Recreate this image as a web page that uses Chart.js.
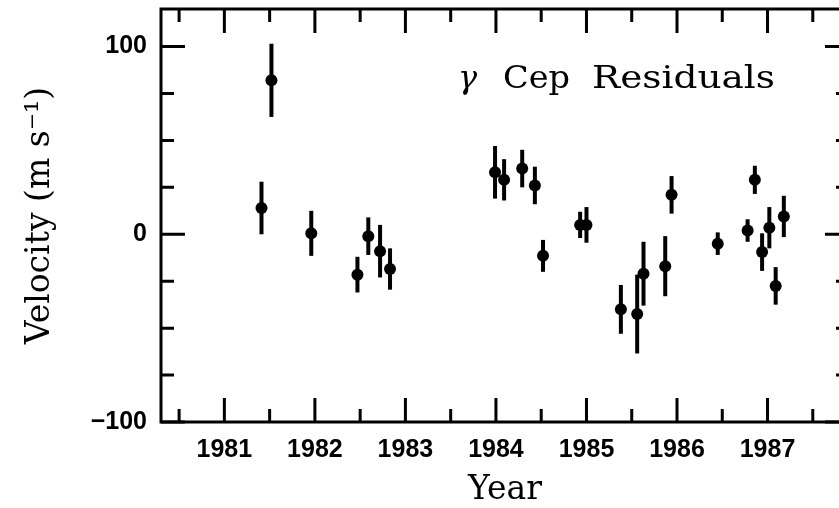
<!DOCTYPE html>
<html>
<head>
<meta charset="utf-8">
<script src="https://cdn.jsdelivr.net/npm/chart.js@4/dist/chart.umd.min.js"></script>
<style>
  html, body { margin: 0; padding: 0; background: #fff; overflow: hidden; }
  canvas { display: block; }
</style>
</head>
<body>
<canvas id="chart" width="870" height="508"></canvas>
<script>
// gamma Cep residuals
const years = [
  1981.41, 1981.52, 1981.96, 1982.47, 1982.59, 1982.72, 1982.83,
  1983.99, 1984.09, 1984.29, 1984.43, 1984.52, 1984.93, 1985.0,
  1985.38, 1985.56, 1985.63, 1985.87, 1985.94,
  1986.45, 1986.78, 1986.86, 1986.94, 1987.02, 1987.09, 1987.18,
];
const velocity = [
  14, 82, 0.5, -21.5, -1, -9, -18.5,
  33, 29, 35, 26, -11.5, 5, 5,
  -40, -42.5, -21, -17, 21,
  -5, 2, 29, -9.5, 3.5, -27.5, 9.5,
];
const errors = [
  14, 19.5, 12, 9.5, 10, 14, 11,
  14, 11, 10, 10, 8.5, 7, 9.5,
  13, 21, 17, 16, 10,
  6, 6, 7.5, 10, 11, 10, 11,
];
const xTicks = [1981, 1982, 1983, 1984, 1985, 1986, 1987];
const xMinor = [1980.5, 1981.5, 1982.5, 1983.5, 1984.5, 1985.5, 1986.5, 1987.5];
const yTicks = [-100, 0, 100];
const yMinor = [-75, -50, -25, 25, 50, 75];

const labelFont = { family: 'Liberation Sans', size: 25, weight: 'bold' };
const serif = 'DejaVu Serif';

// draw a word stretched to a given width
const stretchText = (ctx, text, x, y, w) => {
  const m = ctx.measureText(text).width;
  ctx.save();
  ctx.translate(x, y);
  ctx.scale(w / m, 1);
  ctx.fillText(text, 0, 0);
  ctx.restore();
};

// frame, inward ticks and error bars
const framePlugin = {
  id: 'frame',
  beforeDatasetsDraw(chart) {
    const { ctx, scales: { x, y } } = chart;
    ctx.save();
    ctx.strokeStyle = '#000';
    ctx.lineWidth = 4;
    years.forEach((yr, i) => {
      const px = x.getPixelForValue(yr);
      ctx.beginPath();
      ctx.moveTo(px, y.getPixelForValue(velocity[i] + errors[i]));
      ctx.lineTo(px, y.getPixelForValue(velocity[i] - errors[i]));
      ctx.stroke();
    });
    ctx.restore();
  },
  afterDraw(chart) {
    const { ctx, chartArea: a, scales: { x, y } } = chart;
    ctx.save();
    ctx.strokeStyle = '#000';
    ctx.lineWidth = 3;
    ctx.strokeRect(a.left, a.top, a.right - a.left, a.bottom - a.top);
    const major = 24, minor = 13;
    const xTick = (v, len) => {
      const px = x.getPixelForValue(v);
      ctx.beginPath();
      ctx.moveTo(px, a.bottom); ctx.lineTo(px, a.bottom - len);
      ctx.moveTo(px, a.top); ctx.lineTo(px, a.top + len);
      ctx.stroke();
    };
    const yTick = (v, len) => {
      const py = y.getPixelForValue(v);
      ctx.beginPath();
      ctx.moveTo(a.left, py); ctx.lineTo(a.left + len, py);
      ctx.moveTo(a.right, py); ctx.lineTo(a.right - len, py);
      ctx.stroke();
    };
    xTicks.forEach(v => xTick(v, major));
    xMinor.forEach(v => xTick(v, minor));
    yTicks.forEach(v => yTick(v, major));
    yMinor.forEach(v => yTick(v, minor));

    // label inside the plot
    ctx.fillStyle = '#000';
    ctx.textBaseline = 'alphabetic';
    ctx.textAlign = 'left';
    const ty = 88;
    ctx.font = 'italic 32px "' + serif + '"';
    ctx.fillText('γ', 458, ty);
    ctx.font = '32px "' + serif + '"';
    stretchText(ctx, 'Cep', 503, ty, 67);
    stretchText(ctx, 'Residuals', 592, ty, 183);
    ctx.restore();
  },
};

new Chart(document.getElementById('chart'), {
  type: 'scatter',
  data: {
    datasets: [{
      data: years.map((yr, i) => ({ x: yr, y: velocity[i] })),
      pointRadius: 6,
      pointBackgroundColor: '#000',
      pointBorderWidth: 0,
    }],
  },
  options: {
    responsive: false,
    animation: false,
    layout: { autoPadding: false, padding: { left: 0, top: 9, right: 21, bottom: 0 } },
    plugins: { legend: { display: false }, tooltip: { enabled: false } },
    scales: {
      x: {
        type: 'linear',
        min: 1980.3,
        max: 1987.9,
        afterBuildTicks: s => { s.ticks = xTicks.map(v => ({ value: v })); },
        afterFit: s => { s.height = 86; s.paddingLeft = 0; s.paddingRight = 0; },
        grid: { display: false, drawTicks: false },
        border: { display: false },
        ticks: {
          callback: v => String(v),
          font: labelFont,
          color: '#000',
          padding: 13,
          maxRotation: 0,
          autoSkip: false,
        },
        title: {
          display: true,
          text: 'Year',
          color: '#000',
          font: { family: serif, size: 33, lineHeight: 1 },
          padding: { top: 0, bottom: 1 },
        },
      },
      y: {
        min: -100,
        max: 120,
        afterBuildTicks: s => { s.ticks = yTicks.map(v => ({ value: v })); },
        afterFit: s => { s.width = 161; s.paddingTop = 0; s.paddingBottom = 0; },
        grid: { display: false, drawTicks: false },
        border: { display: false },
        ticks: {
          callback: v => String(v).replace('-', '\u2212'),
          font: labelFont,
          color: '#000',
          padding: 14,
        },
        title: {
          display: true,
          text: 'Velocity (m s⁻¹)',
          color: '#000',
          font: { family: serif, size: 33, lineHeight: 1 },
          padding: { top: 24, bottom: 0 },
        },
      },
    },
  },
  plugins: [framePlugin],
});
</script>
</body>
</html>
